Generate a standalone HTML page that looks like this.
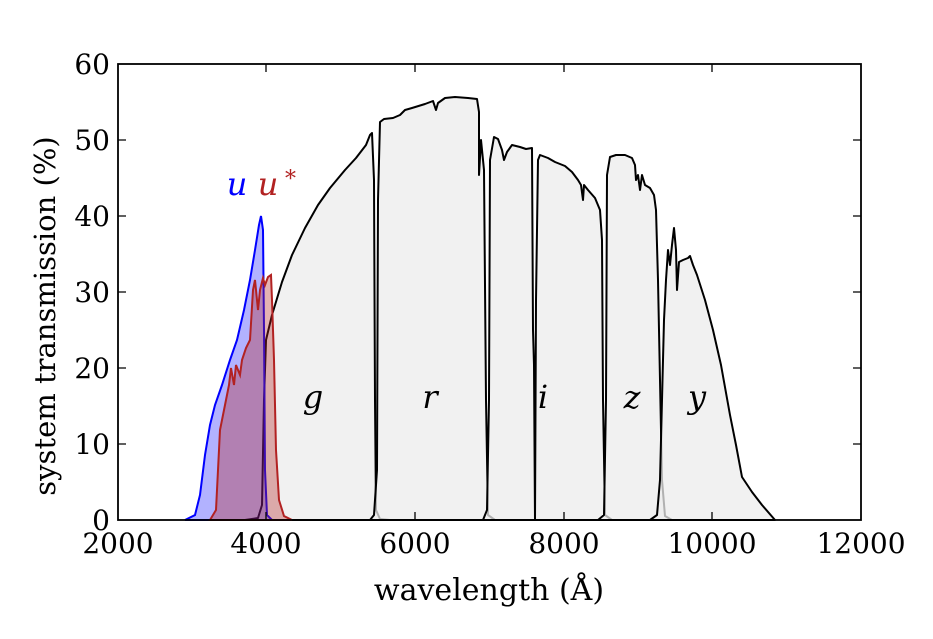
<!DOCTYPE html>
<html><head><meta charset="utf-8"><style>
body{margin:0;background:#fff;width:933px;height:634px;overflow:hidden}
text{font-family:"DejaVu Serif","Liberation Serif",serif}
</style></head><body>
<svg width="933" height="634" viewBox="0 0 933 634" xmlns="http://www.w3.org/2000/svg">
<g stroke="#000" stroke-width="2" fill="#ececec" fill-opacity="0.75" stroke-linejoin="round">
<polygon points="245,520 258,518 262,505 264,400 266,340 272,315 282,282 292,255 305,228 318,205 330,188 345,170 356,158 366,145 370,135 372,133 374,180 375,400 376,510 380,519 390,520"/>
<polygon points="370,520 374,515 377,470 378,200 380,122 384,119 393,118 400,115 405,110 412,108 425,104 433,101 436,110 438,103 445,98 455,97 468,98 477,99 479,112 479,175 481,140 484,170 486,400 488,515 495,520"/>
<polygon points="483,520 487,510 489,400 490,160 494,137 498,139 502,150 504,160 507,152 512,145 520,147 526,149 532,148 533,330 534,365 535,520 536,300 538,160 540,155 548,158 555,162 565,166 572,172 578,180 581,185 583,200 584,185 588,190 595,198 600,210 602,240 603,400 605,515 612,520"/>
<polygon points="598,520 604,515 606,400 607,175 610,157 616,155 625,155 632,158 635,165 636,180 638,175 640,190 642,175 645,185 650,188 654,195 656,210 658,280 660,380 662,480 665,516 672,520"/>
<polygon points="650,520 657,515 660,480 662,400 664,320 666,280 668,250 670,265 672,245 674,228 676,250 677,290 679,262 683,260 688,258 690,256 693,265 697,275 705,300 713,330 721,365 730,415 736,445 742,477 752,492 762,505 775,520"/>
</g>
<polygon points="185,520 195,515 200,495 205,455 210,425 215,405 222,385 230,360 237,340 244,310 250,280 255,250 259,225 261,216 263,230 264,330 265,470 267,515 272,520" fill="#0000ff" fill-opacity="0.3" stroke="#0000ff" stroke-width="2"/>
<polygon points="210,520 216,510 218,470 220,430 222,420 224,410 226,400 229,385 231,368 234,385 236,365 238,370 240,375 242,360 246,348 250,340 253,290 255,280 257,300 258,310 260,290 263,278 265,285 268,277 271,275 272,300 274,360 276,450 279,500 284,516 292,520" fill="#b22222" fill-opacity="0.35" stroke="#b22222" stroke-width="2"/>
<rect x="118" y="64" width="743" height="456" fill="none" stroke="#000" stroke-width="1.8"/>
<g stroke="#000" stroke-width="1.3">
<path d="M266,520v-8M415,520v-8M564,520v-8M712,520v-8M266,64v8M415,64v8M564,64v8M712,64v8"/>
<path d="M118,444h8M118,368h8M118,292h8M118,216h8M118,140h8M861,444h-8M861,368h-8M861,292h-8M861,216h-8M861,140h-8"/>
</g>
<g font-size="28" text-anchor="middle">
<text x="118" y="553">2000</text><text x="266" y="553">4000</text><text x="415" y="553">6000</text><text x="564" y="553">8000</text><text x="712" y="553">10000</text><text x="861" y="553">12000</text>
</g>
<g font-size="28" text-anchor="end">
<text x="110" y="530">0</text><text x="110" y="454">10</text><text x="110" y="378">20</text><text x="110" y="302">30</text><text x="110" y="226">40</text><text x="110" y="150">50</text><text x="110" y="74">60</text>
</g>
<text x="489" y="600" font-size="30" text-anchor="middle">wavelength (Å)</text>
<text transform="translate(55,316) rotate(-90)" font-size="29" text-anchor="middle">system transmission (%)</text>
<g font-size="32" font-style="italic" text-anchor="middle">
<text x="313" y="408">g</text><text x="430" y="408">r</text><text x="543" y="408">i</text><text x="632" y="408">z</text><text x="697" y="408">y</text>
<text x="237" y="195" fill="#0000ff">u</text>
<text x="268" y="195" fill="#b22222">u</text>
</g>
<text x="285" y="186" font-size="22" fill="#b22222">*</text>
</svg>
</body></html>
